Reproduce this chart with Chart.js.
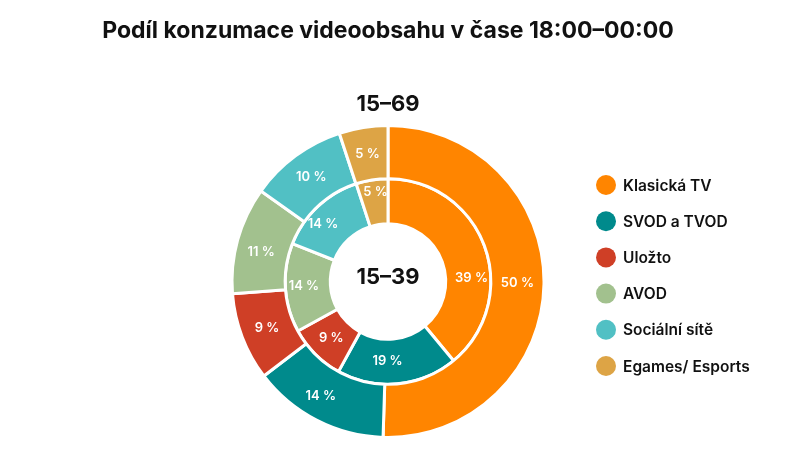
<!DOCTYPE html>
<html>
<head>
<meta charset="utf-8">
<script src="https://cdn.jsdelivr.net/npm/chart.js@4"></script>
<style>
  html, body { margin: 0; padding: 0; background: #fff; }
  #wrap { width: 800px; height: 454px; }
</style>
</head>
<body>
<div id="wrap"><canvas id="podil"></canvas></div>
<script>
// data
const categories = ['Klasická TV', 'SVOD a TVOD', 'Uložto', 'AVOD', 'Sociální sítě', 'Egames/ Esports'];
const values1569 = [50, 14, 9, 11, 10, 5];
const values1539 = [39, 19, 9, 14, 14, 5];
const colors = ['#FF8500', '#008A8C', '#CF3F26', '#A2C18E', '#51C0C4', '#DDA445'];

const FONT = 'Inter, "Noto Sans", sans-serif';

// small hand nudges of a few labels (dataset -> index -> [dx, dy]), like the original
const labelNudge = {
    0: { 1: [-8, 0], 3: [-2, 5] },
    1: { 0: [8, 24], 1: [-8, 0], 3: [-4, 0], 4: [-10, 1], 5: [0, -10] }
};

// percent labels on each arc + the centre text
const arcLabels = {
    id: 'arcLabels',
    afterDatasetsDraw(chart) {
        const ctx = chart.ctx;
        ctx.save();
        ctx.fillStyle = '#fff';
        ctx.font = '600 13px ' + FONT;
        ctx.textAlign = 'center';
        ctx.textBaseline = 'middle';
        chart.data.datasets.forEach((ds, i) => {
            chart.getDatasetMeta(i).data.forEach((arc, j) => {
                const p = arc.getCenterPoint();
                const n = (labelNudge[i] && labelNudge[i][j]) || [0, 0];
                ctx.fillText(ds.data[j] + ' %', p.x + n[0], p.y + n[1]);
            });
        });
        const a = chart.chartArea;
        ctx.fillStyle = '#111';
        ctx.font = '700 22px ' + FONT;
        ctx.fillText('15–39', (a.left + a.right) / 2, (a.top + a.bottom) / 2 - 4);
        ctx.restore();
    }
};

// legend on the right, circles
const sideLegend = {
    id: 'sideLegend',
    afterDraw(chart) {
        const ctx = chart.ctx;
        ctx.save();
        ctx.textBaseline = 'middle';
        ctx.font = '600 15.5px ' + FONT;
        categories.forEach((c, i) => {
            const y = 185 + i * 36.2;
            ctx.fillStyle = colors[i];
            ctx.beginPath();
            ctx.arc(606, y, 10, 0, Math.PI * 2);
            ctx.fill();
            ctx.fillStyle = '#111';
            ctx.fillText(c, 623, y + 1);
        });
        ctx.restore();
    }
};

new Chart(document.getElementById('podil'), {
    type: 'doughnut',
    data: {
        labels: categories,
        datasets: [
            { label: '15-69', data: values1569, backgroundColor: colors, weight: 53 },
            { label: '15-39', data: values1539, backgroundColor: colors, weight: 45 }
        ]
    },
    options: {
        responsive: true,
        maintainAspectRatio: false,
        animation: false,
        cutout: '37%',
        layout: { padding: { left: 0, right: 24, top: 0, bottom: 15 } },
        elements: { arc: { borderColor: '#fff', borderWidth: 3 } },
        plugins: {
            legend: { display: false },
            tooltip: { enabled: false },
            title: {
                display: true,
                text: 'Podíl konzumace videoobsahu v čase 18:00–00:00',
                color: '#111',
                font: { family: FONT, size: 23, weight: '700' },
                padding: { top: 17, bottom: 0 }
            },
            subtitle: {
                display: true,
                text: '15–69',
                color: '#111',
                font: { family: FONT, size: 22, weight: '700' },
                padding: { top: 47, bottom: 6 }
            }
        }
    },
    plugins: [arcLabels, sideLegend]
});
</script>
</body>
</html>
